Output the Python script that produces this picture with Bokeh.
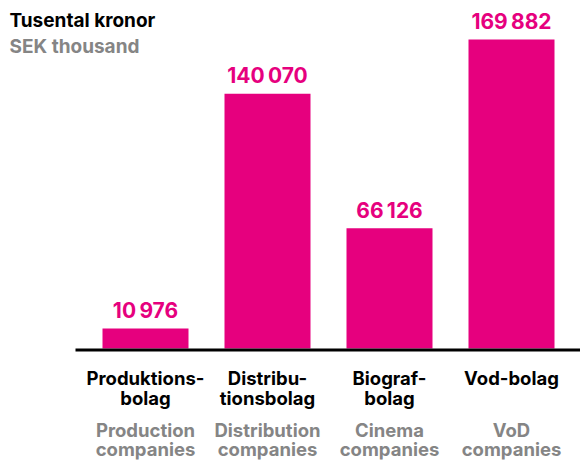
from bokeh.plotting import figure
from bokeh.models import Range1d, ColumnDataSource
from bokeh.core.properties import value
from bokeh.embed import file_html
from bokeh.resources import INLINE

# ---- data ----
categories_sv_1 = ["Produktions-", "Distribu-", "Biograf-", "Vod-bolag"]
categories_sv_2 = ["bolag", "tionsbolag", "bolag", ""]
categories_en_1 = ["Production", "Distribution", "Cinema", "VoD"]
categories_en_2 = ["companies", "companies", "companies", "companies"]
values = [10976, 140070, 66126, 169882]
title_sv = "Tusental kronor"
title_en = "SEK thousand"

MAGENTA = "#E6007E"
GRAY = "#858585"
FONT = "Inter"
SHIFT = -7                   # correction for text baseline rendering

W, H = 580, 461
base_from_top = 348          # px of baseline from top of figure
unit_px = 122                # px per category step
first_center = 145           # px of first category centre from left
ppu = 309 / 169882           # px per value unit

x_start = -first_center / unit_px
x_end = (W - first_center) / unit_px
y_end = base_from_top / ppu
y_start = -(H - base_from_top) / ppu

p = figure(width=W, height=H, output_backend="svg", toolbar_location=None,
           x_range=Range1d(x_start, x_end), y_range=Range1d(y_start, y_end),
           x_axis_location=None, y_axis_location=None,
           min_border=0, min_border_left=0, min_border_right=0,
           min_border_top=0, min_border_bottom=0)
p.outline_line_color = None
p.grid.visible = False
p.background_fill_color = "white"
p.border_fill_color = "white"

xs = list(range(len(values)))
labels = [f"{v:,}".replace(",", "\u2009") for v in values]
src = ColumnDataSource(dict(x=xs, top=values, lab=labels,
                            s1=categories_sv_1, s2=categories_sv_2,
                            e1=categories_en_1, e2=categories_en_2,
                            zero=[0] * len(values)))

p.vbar(x="x", top="top", bottom=0, width=86 / unit_px, source=src,
       fill_color=MAGENTA, line_color=None)

# baseline
p.segment(x0=[(75 - first_center) / unit_px], x1=[x_end],
          y0=[-1.5 / ppu], y1=[-1.5 / ppu],
          line_color="black", line_width=3)

# value labels
p.text(x="x", y="top", text="lab", source=src, y_offset=-11 + SHIFT,
       text_align="center", text_baseline="alphabetic",
       text_font=value(FONT), text_font_style="bold", text_font_size="21px",
       text_color=MAGENTA)

# category labels
for col, off, color in [("s1", 36, "black"), ("s2", 56, "black"),
                        ("e1", 88, GRAY), ("e2", 107, GRAY)]:
    p.text(x="x", y="zero", text=col, source=src, y_offset=off + SHIFT,
           text_align="center", text_baseline="alphabetic",
           text_font=value(FONT), text_font_style="bold", text_font_size="18.5px",
           text_color=color)

# titles
p.text(x=[x_start], y=[y_end], text=[title_sv], x_offset=9, y_offset=27 + SHIFT,
       text_align="left", text_baseline="alphabetic",
       text_font=value(FONT), text_font_style="bold", text_font_size="19px",
       text_color="black")
p.text(x=[x_start], y=[y_end], text=[title_en], x_offset=9, y_offset=53 + SHIFT,
       text_align="left", text_baseline="alphabetic",
       text_font=value(FONT), text_font_style="bold", text_font_size="19px",
       text_color=GRAY)

open("out.html", "w").write(file_html(p, INLINE))
